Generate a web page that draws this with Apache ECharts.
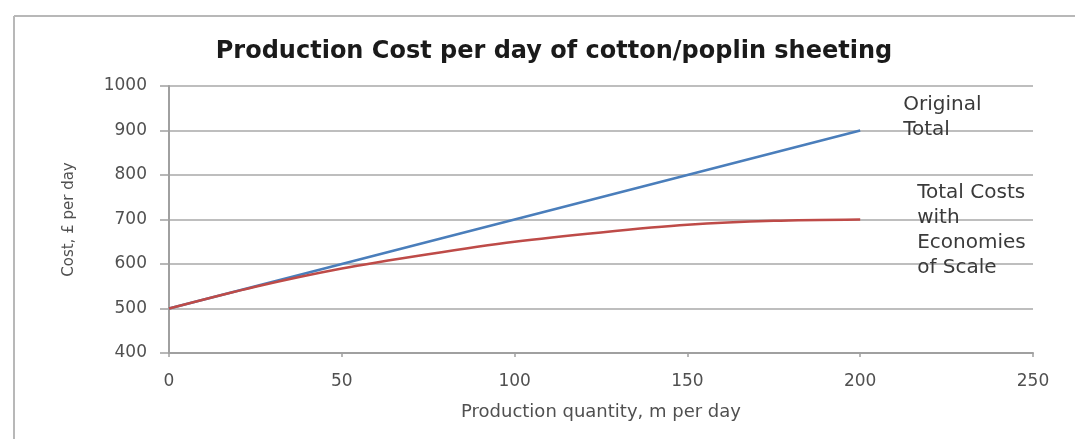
<!DOCTYPE html>
<html>
<head>
<meta charset="utf-8">
<script src="https://cdn.jsdelivr.net/npm/echarts@6/dist/echarts.min.js"></script>
<style>
html,body{margin:0;padding:0;background:#fff;}
#c{width:1075px;height:439px;}
</style>
</head>
<body>
<div id="c"></div>
<script>
const titleText = 'Production Cost per day of cotton/poplin sheeting';
const xName = 'Production quantity, m per day';
const yName = 'Cost, £ per day';
const originalX = [0, 50, 100, 150, 200];
const originalY = [500, 600, 700, 800, 900];
const economiesX = [0, 25, 50, 75, 100, 125, 150, 175, 200];
const economiesY = [500, 549, 590, 622, 650, 671, 688, 697, 700];
const originalLabel = 'Original\nTotal';
const economiesLabel = 'Total Costs\nwith\nEconomies\nof Scale';

const chart = echarts.init(document.getElementById('c'));
const font = 'DejaVu Sans';
chart.setOption({
  animation: false,
  backgroundColor: '#fff',
  title: {
    text: titleText,
    left: 549, top: 35, textAlign: 'center',
    textStyle: {fontFamily: font, fontWeight: 'bold', fontSize: 24, color: '#1a1a1a'}
  },
  graphic: [
    {type: 'line', shape: {x1: 14, y1: 16, x2: 14, y2: 439}, style: {stroke: '#b8b8b8', lineWidth: 2}},
    {type: 'line', shape: {x1: 14, y1: 16, x2: 1075, y2: 16}, style: {stroke: '#b8b8b8', lineWidth: 2}}
  ],
  grid: {left: 169, right: 42, top: 86, bottom: 86},
  xAxis: {
    type: 'value', min: 0, max: 250, interval: 50,
    name: xName, nameLocation: 'middle', nameGap: 50,
    nameTextStyle: {fontFamily: font, fontSize: 18, color: '#505050'},
    axisLine: {show: true, lineStyle: {color: '#a0a0a0', width: 2}},
    axisTick: {show: true, length: 4, lineStyle: {color: '#a0a0a0', width: 1.5}},
    axisLabel: {fontFamily: font, fontSize: 17, color: '#505050', margin: 20},
    splitLine: {show: false}
  },
  yAxis: {
    type: 'value', min: 400, max: 1000, interval: 100,
    name: yName, nameLocation: 'middle', nameGap: 92, nameRotate: 90,
    nameTextStyle: {fontFamily: font, fontSize: 15, color: '#505050'},
    axisLine: {show: true, lineStyle: {color: '#a0a0a0', width: 2}},
    axisTick: {show: true, length: 9, lineStyle: {color: '#a0a0a0', width: 1.5}},
    axisLabel: {fontFamily: font, fontSize: 17, color: '#505050', margin: 22,
      formatter: v => String(v)},
    splitLine: {show: true, lineStyle: {color: '#a8a8a8', width: 1.5}}
  },
  series: [
    {
      type: 'line', name: 'Original Total',
      data: originalX.map((x, i) => [x, originalY[i]]),
      showSymbol: false, symbol: 'none',
      lineStyle: {color: '#4a7ebb', width: 2.5},
      endLabel: {show: true, formatter: originalLabel, offset: [35, -13], align: 'left',
        fontFamily: font, fontSize: 20, color: '#3a3a3a', lineHeight: 25}
    },
    {
      type: 'line', name: 'Total Costs with Economies of Scale',
      data: economiesX.map((x, i) => [x, economiesY[i]]),
      smooth: 0.3, showSymbol: false, symbol: 'none',
      lineStyle: {color: '#be4b48', width: 2.5},
      endLabel: {show: true, formatter: economiesLabel, offset: [49, 11], align: 'left',
        fontFamily: font, fontSize: 20, color: '#3a3a3a', lineHeight: 25}
    }
  ]
});
</script>
</body>
</html>
